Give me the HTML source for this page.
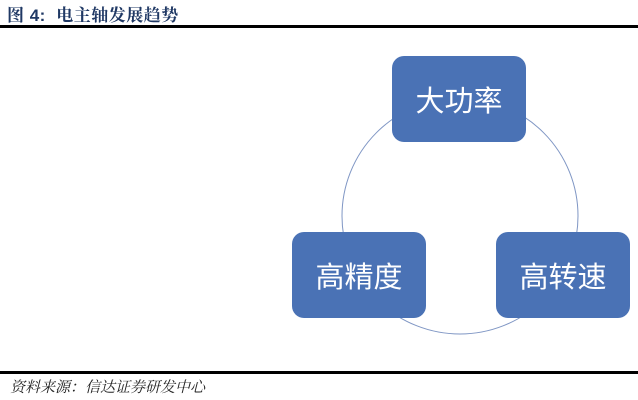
<!DOCTYPE html>
<html><head><meta charset="utf-8"><style>
body{margin:0;width:638px;height:400px;background:#fff;position:relative;overflow:hidden;font-family:"Liberation Sans","Noto Sans CJK SC",sans-serif}
.t{position:absolute;left:7px;top:1px;font-size:17px;font-weight:bold;color:#1f3864;font-family:"Liberation Sans","Noto Serif CJK SC",serif;letter-spacing:0.5px}
.l{position:absolute;left:0;width:638px;background:#000}
.b{position:absolute;width:134px;height:86px;background:#4a72b5;border-radius:12px;color:#fff;font-size:29px;display:flex;align-items:center;justify-content:center}
.s{position:absolute;left:10px;top:376px;font-size:15px;font-style:italic;color:#222;font-family:"Liberation Serif","Noto Serif CJK SC",serif}
</style></head><body>
<div class="t">图 4:&nbsp; 电主轴发展趋势</div>
<div class="l" style="top:25px;height:3px"></div>
<svg style="position:absolute;left:0;top:0" width="638" height="400"><circle cx="460" cy="216" r="118" fill="none" stroke="#7f96c4" stroke-width="1"/></svg>
<div class="b" style="left:392px;top:56px">大功率</div>
<div class="b" style="left:292px;top:232px">高精度</div>
<div class="b" style="left:496px;top:232px">高转速</div>
<div class="l" style="top:371px;height:3px"></div>
<div class="s">资料来源：信达证券研发中心</div>
</body></html>
